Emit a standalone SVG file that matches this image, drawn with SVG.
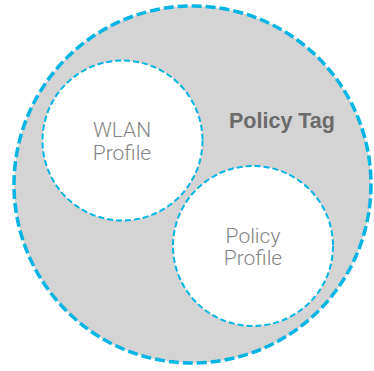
<svg xmlns="http://www.w3.org/2000/svg" width="374" height="371" viewBox="0 0 374 371">
<style>
.outer{fill:#d4d4d4;stroke:#00b4e4;stroke-width:3.5;stroke-dasharray:10 4}
.inner{fill:#ffffff;stroke:#00b4e4;stroke-width:2;stroke-dasharray:6 3}
.lbl{font-family:Roboto,"Liberation Sans",sans-serif;font-weight:300;font-size:21px;fill:#858585;text-anchor:middle}
.tag{font-family:"Liberation Sans",Arial,sans-serif;font-weight:bold;font-size:21.5px;fill:#6b6b6b}
</style>
<g id="policy-tag">
<circle class="outer" cx="192.5" cy="184.5" r="178.5"/>
<text class="tag" x="229" y="128">Policy Tag</text>
</g>
<g id="wlan-profile">
<circle class="inner" cx="122.5" cy="140.5" r="80"/>
<text class="lbl" x="122" y="137">WLAN</text>
<text class="lbl" x="122" y="160">Profile</text>
</g>
<g id="policy-profile">
<circle class="inner" cx="253" cy="246" r="80"/>
<text class="lbl" x="253" y="243">Policy</text>
<text class="lbl" x="253" y="265">Profile</text>
</g>
<g id="connectors"/>
</svg>
